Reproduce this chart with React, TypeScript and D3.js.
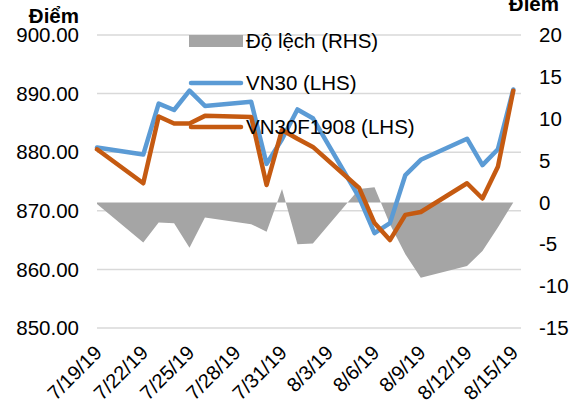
import React from "react";
import * as d3 from "d3";

// trading days shown on the chart
const dates = [
  "7/19/19", "7/22/19", "7/23/19", "7/24/19", "7/25/19", "7/26/19",
  "7/29/19", "7/30/19", "7/31/19", "8/1/19", "8/2/19", "8/5/19",
  "8/6/19", "8/7/19", "8/8/19", "8/9/19", "8/12/19", "8/13/19",
  "8/14/19", "8/15/19",
];

// VN30 index (LHS)
const vn30 = [
  880.8, 879.6, 888.3, 887.2, 890.5, 887.9, 888.6, 878.0, 882.2, 887.3,
  885.8, 872.3, 866.2, 867.9, 876.1, 878.7, 882.3, 877.8, 880.5, 890.7,
];

// VN30F1908 futures (LHS)
const vn30f = [
  880.5, 874.7, 886.1, 884.9, 884.9, 886.2, 886.0, 874.4, 883.8, 882.3,
  880.9, 873.9, 867.9, 865.0, 869.3, 869.8, 874.7, 872.1, 877.5, 890.5,
];

// spread / Độ lệch (RHS)
const spread = [
  -0.2, -4.8, -2.4, -2.5, -5.4, -1.8, -2.6, -3.5, 1.6, -5.0,
  -4.9, 1.6, 1.8, -2.6, -6.2, -9.0, -7.6, -5.8, -3.0, 0.0,
];

const tickLabels = [
  "7/19/19", "7/22/19", "7/25/19", "7/28/19", "7/31/19",
  "8/3/19", "8/6/19", "8/9/19", "8/12/19", "8/15/19",
];
const leftTicks = [850, 860, 870, 880, 890, 900];
const rightTicks = [-15, -10, -5, 0, 5, 10, 15, 20];

const legendItems = ["Độ lệch (RHS)", "VN30 (LHS)", "VN30F1908 (LHS)"];

const parse = d3.timeParse("%m/%d/%y");
const font = "'Liberation Sans', Arial, sans-serif";

export default function App() {
  const width = 579;
  const height = 405;
  const plot = { left: 97, right: 521, top: 35, bottom: 328 };

  const days = dates.map(d => parse(d) as Date);
  const first = days[0];
  const last = d3.timeHour.offset(days[days.length - 1], 12);

  const x = d3.scaleTime().domain([first, last]).range([plot.left, plot.right]);
  const yL = d3.scaleLinear().domain([850, 900]).range([plot.bottom, plot.top]);
  const yR = d3.scaleLinear().domain([-15, 20]).range([plot.bottom, plot.top]);

  const area = d3.area<number>()
    .x((d, i) => x(days[i]))
    .y0(() => yR(0))
    .y1(d => yR(d));

  const line = d3.line<number>()
    .x((d, i) => x(days[i]))
    .y(d => yL(d));

  const fmt = d3.format(".2f");

  return (
    <svg width={width} height={height}
      style={{ position: "absolute", left: 0, top: 0, background: "#fff" }}
      fontFamily={font}>
      {/* grid */}
      {leftTicks.map(t => (
        <line key={t} x1={plot.left} x2={plot.right} y1={yL(t)} y2={yL(t)}
          stroke="#d9d9d9" strokeWidth={1.5} />
      ))}

      {/* spread area */}
      <path d={area(spread) || ""} fill="#a5a5a5" />

      {/* lines */}
      <path d={line(vn30) || ""} fill="none" stroke="#5b9bd5" strokeWidth={4.5}
        strokeLinejoin="round" strokeLinecap="round" />
      <path d={line(vn30f) || ""} fill="none" stroke="#c55a11" strokeWidth={4.5}
        strokeLinejoin="round" strokeLinecap="round" />

      {/* left axis */}
      {leftTicks.map(t => (
        <text key={t} x={79} y={yL(t)} dy="0.35em" textAnchor="end" fontSize={20.5} fill="#000">
          {fmt(t)}
        </text>
      ))}
      <text x={79} y={23} textAnchor="end" fontSize={20.5} fontWeight="bold">Điểm</text>

      {/* right axis */}
      {rightTicks.map(t => (
        <text key={t} x={539} y={yR(t)} dy="0.35em" textAnchor="start" fontSize={20.5} fill="#000">
          {t}
        </text>
      ))}
      <text x={559} y={11} textAnchor="end" fontSize={20.5} fontWeight="bold">Điểm</text>

      {/* date axis */}
      {tickLabels.map(t => {
        const px = x(parse(t) as Date);
        return (
          <text key={t} transform={`translate(${px + 6},354) rotate(-45)`}
            textAnchor="end" fontSize={20} fill="#000">
            {t}
          </text>
        );
      })}

      {/* legend */}
      <g>
        <rect x={189} y={35} width={54} height={12} fill="#a5a5a5" />
        <text x={246} y={48} fontSize={20.5}>{legendItems[0]}</text>
        <line x1={191} x2={241} y1={83} y2={83} stroke="#5b9bd5" strokeWidth={4.5} strokeLinecap="round" />
        <text x={246} y={90} fontSize={20.5}>{legendItems[1]}</text>
        <line x1={191} x2={241} y1={127} y2={127} stroke="#c55a11" strokeWidth={4.5} strokeLinecap="round" />
        <text x={246} y={134} fontSize={20.5}>{legendItems[2]}</text>
      </g>
    </svg>
  );
}
